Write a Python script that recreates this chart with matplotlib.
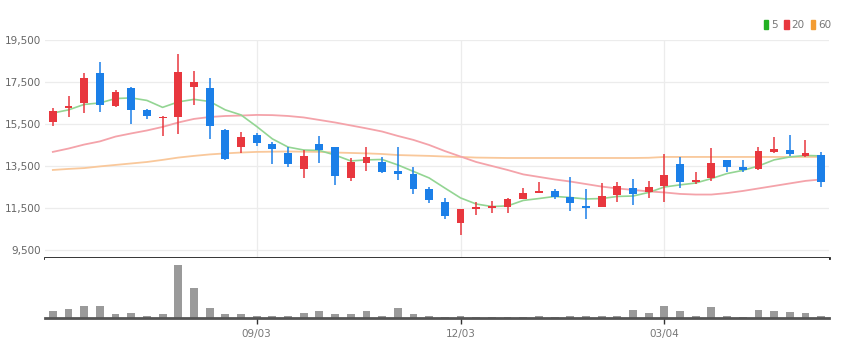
import numpy as np
import matplotlib
matplotlib.use('Agg')
import matplotlib.pyplot as plt
from matplotlib.patches import Patch

# candle data
opens = [15600, 16250, 16490, 17910, 16370, 17200, 16170, 15770, 15820, 17250,
         17230, 15210, 14390, 14980, 14550, 14130, 13340, 14550, 14420, 12910,
         13630, 13710, 13260, 13120, 12410, 11800, 10770, 11470, 11510, 11560,
         11940, 12230, 12320, 12040, 11610, 11560, 12100, 12440, 12250, 12550,
         13580, 12740, 12910, 13790, 13440, 13360, 14150, 14260, 13990, 14020]
highs = [16280, 16830, 17910, 18440, 17120, 17280, 16200, 15860, 18830, 18040,
         17680, 15240, 15110, 15060, 14660, 14420, 14260, 14940, 14420, 13900,
         14420, 13940, 14420, 13440, 12490, 11960, 11460, 11800, 11850, 11960,
         12440, 12720, 12390, 12960, 12390, 12700, 12720, 12870, 12790, 14070,
         13940, 13230, 14340, 13790, 13790, 14420, 14900, 14980, 14740, 14150]
lows = [15400, 15820, 16010, 16090, 16300, 15500, 15740, 14940, 15010, 16410,
        14770, 13790, 14110, 14470, 13600, 13440, 12950, 13660, 12600, 12800,
        13280, 13150, 12830, 12170, 11750, 10960, 10210, 11170, 11250, 11280,
        11910, 12200, 11940, 11370, 10960, 11530, 11800, 11640, 11990, 11800,
        12440, 12630, 12800, 13230, 13230, 13310, 14100, 13990, 13950, 12510]
closes = [16130, 16370, 17680, 16410, 17040, 16170, 15900, 15850, 17990, 17510,
          15420, 13830, 14900, 14580, 14310, 13600, 13990, 14260, 13020, 13710,
          13910, 13230, 13120, 12420, 11880, 11130, 11450, 11560, 11610, 11910,
          12230, 12320, 12040, 11720, 11500, 12070, 12550, 12170, 12510, 13070,
          12720, 12830, 13630, 13440, 13310, 14230, 14310, 14090, 14100, 12750]

ma5 = [16020, 16170, 16430, 16500, 16710, 16740, 16620, 16290, 16550, 16670,
       16570, 16170, 15930, 15380, 14790, 14400, 14260, 14240, 14020, 13740,
       13790, 13810, 13550, 13240, 12930, 12450, 11980, 11690, 11570, 11600,
       11860, 11950, 12050, 12000, 11930, 11950, 12050, 12070, 12240, 12500,
       12600, 12690, 12900, 13140, 13290, 13500, 13790, 13930, 14000, 13980]
ma20 = [14170, 14330, 14520, 14670, 14900, 15050, 15190, 15360, 15570, 15740,
        15830, 15880, 15900, 15930, 15920, 15880, 15810, 15690, 15570, 15430,
        15290, 15140, 14930, 14740, 14500, 14210, 13950, 13690, 13500, 13310,
        13100, 12980, 12860, 12760, 12640, 12520, 12430, 12360, 12290, 12240,
        12170, 12140, 12140, 12210, 12310, 12430, 12550, 12670, 12790, 12860]
ma60 = [13310, 13360, 13400, 13480, 13550, 13620, 13690, 13790, 13900, 13980,
        14050, 14100, 14140, 14170, 14180, 14190, 14180, 14170, 14140, 14120,
        14100, 14070, 14020, 14000, 13980, 13950, 13930, 13900, 13890, 13880,
        13880, 13880, 13880, 13880, 13880, 13880, 13880, 13880, 13890, 13930,
        13930, 13930, 13930, 13930, 13930, 13930, 13930, 13930, 13930, 13930]

volume = [7300, 9000, 12300, 12300, 4300, 5600, 2600, 4300, 53000, 30600,
          10600, 4300, 4000, 2600, 2600, 2600, 5600, 7600, 4300, 4000,
          7600, 2600, 10600, 4000, 2600, 1600, 2600, 1000, 1000, 1000,
          1000, 2600, 1000, 2600, 2600, 2600, 2600, 8300, 5600, 12300,
          7600, 2600, 11600, 2600, 1600, 8300, 7600, 6600, 5000, 2600]

date_pos = [13, 26, 39]
date_labels = ['09/03', '12/03', '03/04']
price_ticks = [9500, 11500, 13500, 15500, 17500, 19500]

UP = '#e8373e'
DOWN = '#1b7fe8'
FONT = ['Liberation Sans Narrow', 'DejaVu Sans']
plt.rcParams['font.family'] = FONT

o = np.array(opens)
c = np.array(closes)
x = np.arange(len(opens))
colors = np.where(c >= o, UP, DOWN)

fig = plt.figure(figsize=(8.48, 3.58), dpi=100)
ax = fig.add_axes([45/848, 100/358, 784/848, 218.5/358])
axv = fig.add_axes([45/848, 39.7/358, 784/848, 60.3/358])

# price pane
ax.plot(x, ma60, color='#f9c89b', lw=1.3, zorder=2)
ax.plot(x, ma20, color='#f4a3aa', lw=1.3, zorder=2)
ax.plot(x, ma5, color='#93d593', lw=1.2, zorder=2)
ax.vlines(x, lows, highs, colors=colors, lw=1.1, zorder=3)
body = np.maximum(np.abs(c - o), 60)
ax.bar(x, body, bottom=np.minimum(o, c), width=0.5, color=colors, zorder=4)

ax.set_xlim(-0.5, len(x) - 0.5)
ax.set_ylim(9120, 19520)
ax.set_yticks(price_ticks)
ax.set_yticklabels([f'{t:,}' for t in price_ticks])
ax.set_xticks(date_pos)
ax.set_xticklabels([])
ax.grid(True, color='#ececec', lw=0.9, zorder=0)
ax.tick_params(axis='y', length=0, pad=3, labelsize=7.5, labelcolor='#666666')
ax.tick_params(axis='x', length=0)
for s in ['top', 'right', 'left']:
    ax.spines[s].set_visible(False)
ax.spines['bottom'].set_color('#222222')
ax.spines['bottom'].set_linewidth(2)

# volume pane
axv.bar(x, volume, width=0.5, color='#9a9a9a', zorder=2)
axv.set_xlim(-0.5, len(x) - 0.5)
axv.set_ylim(0, 60000)
axv.set_yticks([])
axv.set_xticks(date_pos)
axv.set_xticklabels(date_labels)
axv.tick_params(axis='x', length=4, width=1, color='#333333', pad=4,
                labelsize=7.5, labelcolor='#777777')
for s in ['top', 'right', 'left']:
    axv.spines[s].set_visible(False)
axv.spines['bottom'].set_color('#555555')
axv.spines['bottom'].set_linewidth(2)

handles = [Patch(color='#22b022', label='5'),
           Patch(color='#e8373e', label='20'),
           Patch(color='#f39c32', label='60')]
fig.legend(handles=handles, loc='center right', bbox_to_anchor=(831/848, 1 - 25/358),
           ncol=3, frameon=False, fontsize=7.5, labelcolor='#777777',
           handlelength=0.45, handleheight=1.0, handletextpad=0.25,
           columnspacing=0.6, borderpad=0, borderaxespad=0)

fig.savefig('out.png', dpi=100, facecolor='white')
